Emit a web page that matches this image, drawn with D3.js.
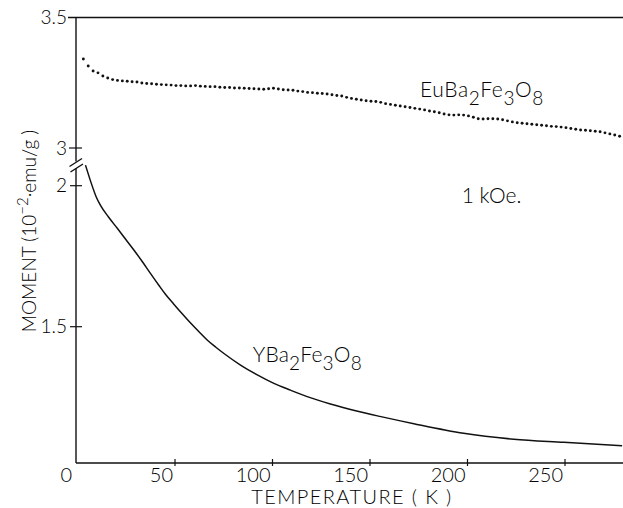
<!DOCTYPE html>
<html><head><meta charset="utf-8">
<script src="https://cdn.jsdelivr.net/npm/d3@7"></script>
<style>body{margin:0;background:#fff}svg{display:block}text{font-family:Lato,"Open Sans",sans-serif;font-weight:300;fill:#000}</style>
</head><body><div id="c"></div>
<script>
// ---- data ----
const euT = [3,5.5,8,10.5,13,15.5,18,20.5,23,25.5,28,30.5,33,35.5,38,40.5,43,45.5,48,50.5,53,55.5,58,60.5,63,65.5,68,70.5,73,75.5,78,80.5,83,85.5,88,90.5,93,95.5,98,100.5,103,105.5,108,110.5,113,115.5,118,120.5,123,125.5,128,130.5,133,135.5,138,140.5,143,145.5,148,150.5,153,155.5,158,160.5,163,165.5,168,170.5,173,175.5,178,180.5,183,185.5,188,190.5,193,195.5,198,200.5,203,205.5,208,210.5,213,215.5,218,220.5,223,225.5,228,230.5,233,235.5,238,240.5,243,245.5,248,250.5,253,255.5,258,260.5,263,265.5,268,270.5,273,275.5,278];
const euM = [3.341,3.314,3.295,3.288,3.276,3.268,3.262,3.259,3.257,3.256,3.254,3.253,3.249,3.247,3.246,3.244,3.243,3.242,3.241,3.239,3.239,3.238,3.238,3.239,3.237,3.236,3.235,3.235,3.233,3.232,3.232,3.230,3.230,3.229,3.228,3.227,3.226,3.225,3.227,3.229,3.226,3.223,3.222,3.221,3.218,3.216,3.213,3.212,3.210,3.209,3.207,3.204,3.201,3.199,3.194,3.190,3.187,3.184,3.181,3.179,3.178,3.175,3.170,3.167,3.164,3.161,3.158,3.155,3.152,3.149,3.146,3.142,3.139,3.135,3.130,3.127,3.126,3.127,3.126,3.123,3.118,3.112,3.111,3.112,3.112,3.111,3.108,3.104,3.100,3.097,3.095,3.093,3.091,3.089,3.087,3.085,3.083,3.082,3.080,3.078,3.075,3.072,3.069,3.068,3.066,3.064,3.062,3.058,3.054,3.050,3.045];
const yT = [4.1,7,9.5,11.8,15.9,20.4,24.6,28.9,33.2,37.4,41.7,45.1,49.4,53.7,58,62.3,66.5,70.8,75.1,83.6,92.2,100.7,109.2,117.8,129.7,142.6,155,165.6,172.5,198,223.7,249.4,279.3];
const yM = [2.073,2.010,1.962,1.930,1.889,1.849,1.811,1.772,1.731,1.689,1.647,1.615,1.580,1.546,1.513,1.482,1.453,1.428,1.405,1.364,1.329,1.299,1.275,1.252,1.226,1.202,1.182,1.166,1.156,1.122,1.101,1.090,1.078];
const xTicks = [0,50,100,150,200,250];
const yTicksHigh = [3, 3.5];
const yTicksLow = [1.5, 2];

// ---- layout ----
const W = 623, H = 508;
const axisX = 76, axisY = 463, topY = 17.5;
const svg = d3.select("#c").append("svg").attr("width", W).attr("height", H);
svg.append("rect").attr("width", W).attr("height", H).attr("fill", "#fff");

const x = d3.scaleLinear().domain([0, 280]).range([77.5, 623.5]);
const yHigh = d3.scaleLinear().domain([3, 3.5]).range([148, topY]);
const yLow = d3.scaleLinear().domain([1.5, 2]).range([326.7, 185.7]);

const g = svg.append("g").attr("stroke", "#111").attr("fill", "none");
// y axis with break
g.append("line").attr("x1", axisX).attr("x2", axisX).attr("y1", topY).attr("y2", 161.5).attr("stroke-width", 1.4);
g.append("line").attr("x1", axisX).attr("x2", axisX).attr("y1", 168).attr("y2", axisY).attr("stroke-width", 1.4);
g.append("line").attr("x1", 69.5).attr("y1", 166.5).attr("x2", 82).attr("y2", 158.5).attr("stroke-width", 1.4);
g.append("line").attr("x1", 70.5).attr("y1", 172).attr("x2", 83).attr("y2", 164).attr("stroke-width", 1.4);
// top border and x axis
g.append("line").attr("x1", 68).attr("x2", W).attr("y1", topY).attr("y2", topY).attr("stroke-width", 1.3);
g.append("line").attr("x1", axisX).attr("x2", W).attr("y1", axisY).attr("y2", axisY).attr("stroke-width", 1.4);

// x ticks
const xAxisG = svg.append("g").attr("transform", `translate(0,${axisY})`);
xTicks.filter(d => d > 0).forEach(d => {
  xAxisG.append("line").attr("x1", x(d)).attr("x2", x(d)).attr("y1", -4).attr("y2", 3).attr("stroke", "#111").attr("stroke-width", 1.2);
});
xAxisG.selectAll("text.xt").data(xTicks).join("text")
  .attr("x", d => d === 0 ? 72 : x(d) - 2).attr("y", 19)
  .attr("text-anchor", "end").attr("font-size", 20).text(d => d);

// y ticks
function yTick(scale, d, left) {
  svg.append("line").attr("x1", left).attr("x2", 82).attr("y1", scale(d)).attr("y2", scale(d)).attr("stroke", "#111").attr("stroke-width", 1.2);
  svg.append("text").attr("x", 67).attr("y", scale(d)).attr("dy", "0.35em").attr("text-anchor", "end").attr("font-size", 19).text(d);
}
yTicksHigh.forEach(d => {
  if (d === 3.5) {
    svg.append("text").attr("x", 67).attr("y", yHigh(d)).attr("dy", "0.35em").attr("text-anchor", "end").attr("font-size", 19).text(d);
  } else yTick(yHigh, d, 69);
});
yTicksLow.forEach(d => yTick(yLow, d, 70));

// Eu series dots
svg.append("g").selectAll("circle").data(euT.map((t, i) => [t, euM[i]])).join("circle")
  .attr("cx", d => x(d[0])).attr("cy", d => yHigh(d[1])).attr("r", 1.45).attr("fill", "#111");

// Y series line
const line = d3.line().x(d => x(d[0])).y(d => yLow(d[1])).curve(d3.curveMonotoneX);
svg.append("path").datum(yT.map((t, i) => [t, yM[i]])).attr("d", line)
  .attr("fill", "none").attr("stroke", "#111").attr("stroke-width", 1.5);

// labels with subscripts
function chem(xp, yp, seq, ls) {
  const t = svg.append("text").attr("x", xp).attr("y", yp).attr("font-size", 21).attr("letter-spacing", ls);
  let low = false;
  seq.forEach(([s, sub]) => {
    const ts = t.append("tspan").text(s);
    if (sub && !low) { ts.attr("dy", 8).attr("font-size", 19); low = true; }
    else if (sub && low) { ts.attr("font-size", 19); }
    else if (!sub && low) { ts.attr("dy", -8); low = false; }
  });
}
chem(420, 96.7, [["EuBa", false], ["2", true], ["Fe", false], ["3", true], ["O", false], ["8", true]], 0.6);
chem(252.7, 361.7, [["YBa", false], ["2", true], ["Fe", false], ["3", true], ["O", false], ["8", true]], 0.2);
svg.append("text").attr("x", 461.7).attr("y", 203.3).attr("font-size", 21).text("1 kOe.");

// axis titles
svg.append("text").attr("x", 352).attr("y", 504).attr("text-anchor", "middle").attr("font-size", 20)
  .attr("letter-spacing", 1.4).text("TEMPERATURE  ( K )");
const yl = svg.append("text").attr("transform", "translate(36,231) rotate(-90)")
  .attr("text-anchor", "middle").attr("font-size", 19);
yl.append("tspan").text("MOMENT (10");
yl.append("tspan").attr("dy", -8).attr("font-size", 15).text("−2");
yl.append("tspan").attr("dy", 8).text("·emu/g )");
</script></body></html>
